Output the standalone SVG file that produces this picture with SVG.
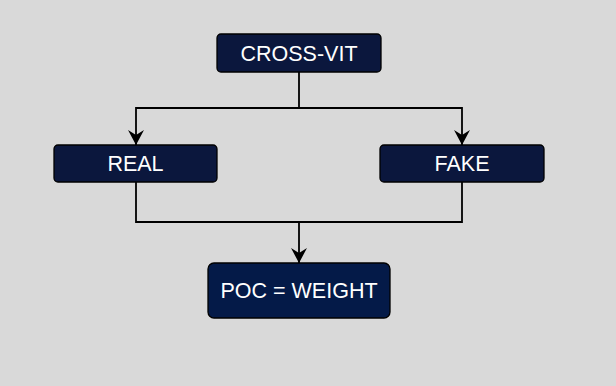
<svg xmlns="http://www.w3.org/2000/svg" width="616" height="386" viewBox="0 0 616 386">
  <style>
    .box { fill: #0b173d; stroke: #000; stroke-width: 1.3; }
    .box.result { fill: #041a48; }
    .label { fill: #fff; font-family: "Liberation Sans", Arial, sans-serif; font-size: 21.5px; text-anchor: middle; }
    .wire { fill: none; stroke: #000; stroke-width: 1.8; }
  </style>
  <defs>
    <marker id="arrow" viewBox="0 0 15 16" refX="15" refY="8" markerWidth="15" markerHeight="16" markerUnits="userSpaceOnUse" orient="auto">
      <path d="M0,0 L15,8 L0,16 L5,8 Z" fill="#000"/>
    </marker>
  </defs>
  <rect width="616" height="386" fill="#d9d9d9"/>

  <g id="connectors">
    <path class="wire" d="M299,72 V108 H136 V145" marker-end="url(#arrow)"/>
    <path class="wire" d="M299,108 H462 V145" marker-end="url(#arrow)"/>
    <path class="wire" d="M136,182 V222 H462 V182"/>
    <path class="wire" d="M299,222 V263" marker-end="url(#arrow)"/>
  </g>

  <g id="cross-vit">
    <rect class="box" x="217" y="34" width="164" height="38" rx="4"/>
    <text class="label" x="299" y="60.5">CROSS-VIT</text>
  </g>
  <g id="real">
    <rect class="box" x="54" y="145" width="163" height="37" rx="4"/>
    <text class="label" x="135.5" y="171">REAL</text>
  </g>
  <g id="fake">
    <rect class="box" x="380" y="145" width="164" height="37" rx="4"/>
    <text class="label" x="462" y="171">FAKE</text>
  </g>
  <g id="poc-weight">
    <rect class="box result" x="208" y="263" width="182" height="55" rx="6"/>
    <text class="label" x="299" y="298">POC = WEIGHT</text>
  </g>
</svg>
